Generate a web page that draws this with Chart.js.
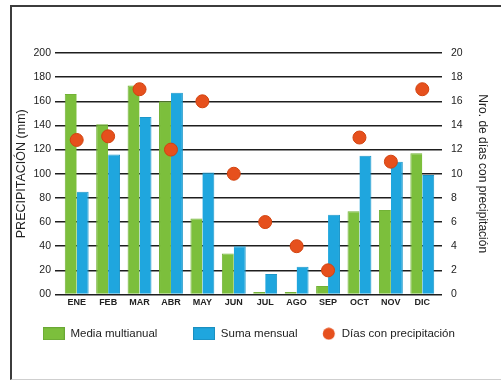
<!DOCTYPE html>
<html>
<head>
<meta charset="utf-8">
<script src="https://cdn.jsdelivr.net/npm/chart.js@4"></script>
<style>
  body { margin: 0; background: #fff; }
  #frame {
    position: absolute; left: 10px; top: 5px; width: 491px; height: 372px;
    border-top: 2px solid #3c3c3c; border-left: 2px solid #3c3c3c; border-bottom: 1px solid #cfcfcf;
  }
  #wrap { position: absolute; left: 0; top: 0; width: 501px; height: 380px; }
</style>
</head>
<body>
<div id="frame"></div>
<div id="wrap"><canvas id="chart"></canvas></div>
<script>
const months = ["ENE", "FEB", "MAR", "ABR", "MAY", "JUN", "JUL", "AGO", "SEP", "OCT", "NOV", "DIC"];
const mediaMultianual = [166, 141, 173, 160, 63, 34, 2, 2, 7, 69, 70, 117];
const sumaMensual = [85, 116, 147, 167, 101, 40, 17, 23, 66, 115, 110, 99];
const diasPrecipitacion = [12.8, 13.1, 17, 12, 16, 10, 6, 4, 2, 13, 11, 17];

const GREEN = "#7cbf3c";
const BLUE = "#1fa6de";
const RED = "#e6501d";

// little canvases used as legend symbols
function boxIcon(color, border) {
  const c = document.createElement("canvas");
  c.width = 22; c.height = 13;
  const g = c.getContext("2d");
  g.fillStyle = color;
  g.fillRect(0, 0, 22, 13);
  g.strokeStyle = border;
  g.strokeRect(0.5, 0.5, 21, 12);
  return c;
}
function dotIcon(color) {
  // same width as the boxes, dot sits a bit to the right (closer to its text)
  const c = document.createElement("canvas");
  c.width = 22; c.height = 13;
  const g = c.getContext("2d");
  g.fillStyle = color;
  g.beginPath();
  g.arc(14.75, 6.5, 6, 0, Math.PI * 2);
  g.fill();
  return c;
}
const icons = [boxIcon(GREEN, "#6aa834"), boxIcon(BLUE, "#1a8fc0"), dotIcon(RED)];
// extra room after each legend entry (the items are not evenly spaced)
const legendGap = ["      ", "", "  "];

const ctx = document.getElementById("chart");
const font = "'Liberation Sans', Arial, sans-serif";

new Chart(ctx, {
  data: {
    labels: months,
    datasets: [
      {
        type: "bar",
        label: "Media multianual",
        data: mediaMultianual,
        backgroundColor: GREEN,
        borderColor: "#72b236",
        borderWidth: { left: 1, right: 0, top: 1, bottom: 0 },
        yAxisID: "y",
        order: 1,
      },
      {
        type: "bar",
        label: "Suma mensual",
        data: sumaMensual,
        backgroundColor: BLUE,
        borderColor: "#1b96c9",
        borderWidth: { left: 0, right: 1, top: 1, bottom: 0 },
        yAxisID: "y",
        order: 1,
      },
      {
        type: "line",
        label: "Días con precipitación",
        data: diasPrecipitacion,
        showLine: false,
        pointRadius: 6.5,
        pointBackgroundColor: RED,
        pointBorderColor: "#d2430f",
        pointBorderWidth: 1,
        yAxisID: "y2",
        order: 0,
      },
    ],
  },
  options: {
    responsive: true,
    maintainAspectRatio: false,
    animation: false,
    datasets: {
      bar: { categoryPercentage: 0.76, barPercentage: 1 },
    },
    layout: { padding: { left: 11, right: 8, top: 53, bottom: 30.5 } },
    plugins: {
      tooltip: { enabled: false },
      legend: {
        position: "bottom",
        labels: {
          usePointStyle: true,
          pointStyleWidth: 22,
          boxHeight: 13,
          padding: 16.5,
          color: "#222",
          font: { family: font, size: 11.5 },
          generateLabels: (chart) =>
            chart.data.datasets.map((ds, i) => ({
              text: ds.label + legendGap[i],
              pointStyle: icons[i],
              fillStyle: "transparent",
              strokeStyle: "transparent",
              lineWidth: 0,
              datasetIndex: i,
              fontColor: "#222",
            })),
        },
      },
    },
    scales: {
      x: {
        grid: { display: false, drawTicks: false },
        border: { display: false },
        ticks: {
          color: "#222",
          padding: 3,
          maxRotation: 0,
          font: { family: font, size: 9, weight: "bold" },
        },
        afterFit: (scale) => { scale.height = 17; },
      },
      y: {
        position: "left",
        min: 0,
        max: 200,
        ticks: {
          stepSize: 20,
          padding: 4,
          color: "#222",
          font: { family: font, size: 10.5 },
          callback: (v) => (v === 0 ? "00" : v),
        },
        grid: { color: "#1e1e1e", lineWidth: 1.5, drawTicks: true, tickLength: 6, tickColor: "#1e1e1e" },
        border: { display: false },
        title: {
          display: true,
          text: "PRECIPITACIÓN (mm)",
          color: "#222",
          padding: { top: 3, bottom: 3 },
          font: { family: font, size: 12.5 },
        },
        afterFit: (scale) => { scale.width = 50; },
      },
      y2: {
        position: "right",
        min: 0,
        max: 20,
        ticks: {
          stepSize: 2,
          padding: 9,
          color: "#222",
          font: { family: font, size: 10.5 },
        },
        grid: { drawOnChartArea: false, color: "#1e1e1e", lineWidth: 1.5, tickLength: 4, tickColor: "#1e1e1e" },
        border: { display: false },
        title: {
          display: true,
          text: "Nro. de días con precipitación",
          color: "#222",
          padding: { top: 3, bottom: 3 },
          font: { family: font, size: 12 },
        },
        afterFit: (scale) => { scale.width = 55; },
      },
    },
  },
});
</script>
</body>
</html>
